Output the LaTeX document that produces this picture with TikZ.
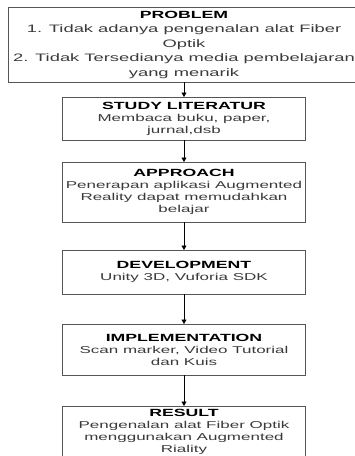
\documentclass[tikz,border=0pt]{standalone}
\usepackage{fontspec}
\setmainfont{Liberation Sans}[FakeStretch=1.7]
\usetikzlibrary{arrows.meta}
\definecolor{boxline}{HTML}{555555}
\definecolor{bodytext}{HTML}{3A3A3A}
\tikzset{
  stagebox/.style={draw=boxline, line width=0.8pt, inner sep=0pt, outer sep=0pt,
    align=center, text=bodytext, font={\fontsize{10}{12}\selectfont}},
  flow/.style={draw=black, line width=0.8pt, -{Triangle[length=4.5pt,width=5pt]}},
}
\newcommand{\stagetitle}[1]{{\color{black}\bfseries\fontsize{10.4}{12}\selectfont #1}}
\begin{document}
\begin{tikzpicture}[x=1pt,y=-1pt]
\useasboundingbox (0,0) rectangle (355,456);
\node[stagebox, minimum width=352pt, minimum height=75pt,
  font={\fontsize{10.8}{14.5}\selectfont}] (problem) at (184,44.5)
  {\stagetitle{PROBLEM}\\1. Tidak adanya pengenalan alat Fiber\\Optik\\2. Tidak Tersedianya media pembelajaran\\yang menarik};
\node[stagebox, minimum width=243pt, minimum height=43pt] (study) at (184,118.5)
  {\stagetitle{STUDY LITERATUR}\\Membaca buku, paper,\\jurnal,dsb};
\node[stagebox, minimum width=243pt, minimum height=60pt] (approach) at (184,192)
  {\stagetitle{APPROACH}\\Penerapan aplikasi Augmented\\Reality dapat memudahkan\\belajar};
\node[stagebox, minimum width=243pt, minimum height=44pt] (dev) at (184,272)
  {\stagetitle{DEVELOPMENT}\\Unity 3D, Vuforia SDK};
\node[stagebox, minimum width=243pt, minimum height=51pt] (impl) at (184,349.5)
  {\stagetitle{IMPLEMENTATION}\\Scan marker, Video Tutorial\\dan Kuis};
\node[stagebox, minimum width=243pt, minimum height=52pt] (result) at (184,432)
  {\stagetitle{RESULT}\\Pengenalan alat Fiber Optik\\menggunakan Augmented\\Riality};
\draw[flow] (problem.south) -- (study.north);
\draw[flow] (study.south) -- (approach.north);
\draw[flow] (approach.south) -- (dev.north);
\draw[flow] (dev.south) -- (impl.north);
\draw[flow] (impl.south) -- (result.north);
\end{tikzpicture}
\end{document}
